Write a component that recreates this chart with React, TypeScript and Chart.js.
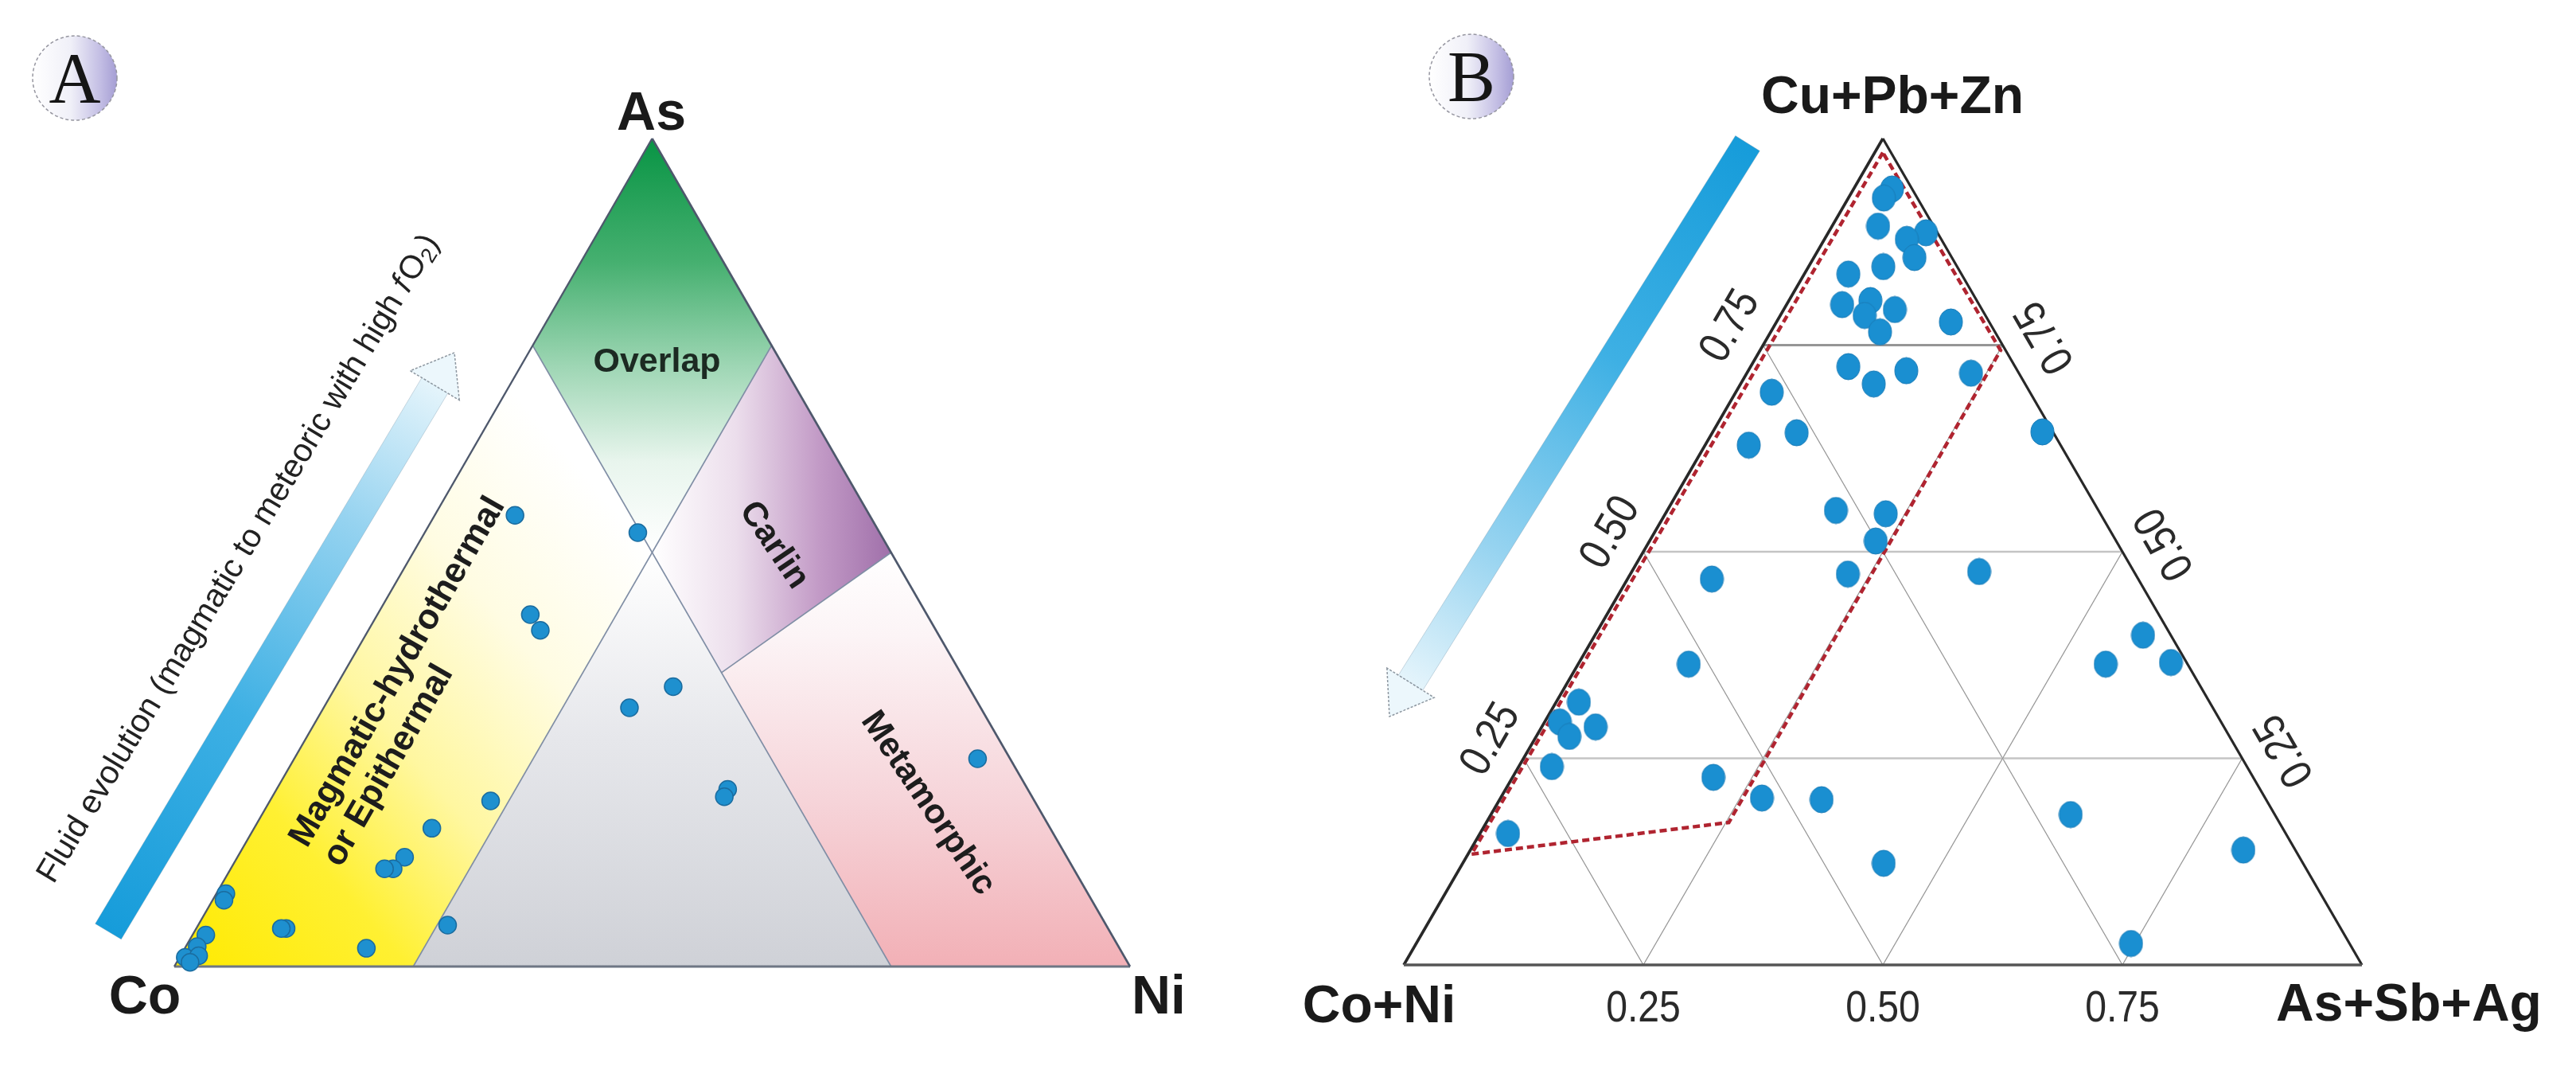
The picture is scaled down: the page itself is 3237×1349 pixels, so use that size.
import React, { useEffect, useRef } from "react";
import { Chart, registerables } from "chart.js";

Chart.register(...registerables);

// ---------------- Panel A : Co – As – Ni (fractions, Co = 1 - As - Ni) ----------------
const vertexLabelsA = ["Co", "As", "Ni"]; // left, top, right
const pointsA_As = [0.545, 0.524, 0.425, 0.406, 0.338, 0.3125, 0.251, 0.214, 0.205, 0.2, 0.167, 0.132, 0.118, 0.118, 0.088, 0.08, 0.046, 0.046, 0.05, 0.022, 0.038, 0.024, 0.011, 0.013, 0.005];
const pointsA_Ni = [0.084, 0.223, 0.16, 0.18, 0.353, 0.32, 0.715, 0.472, 0.473, 0.231, 0.186, 0.175, 0.17, 0.161, 0.01, 0.012, 0.094, 0.089, 0.261, 0.19, 0.014, 0.012, 0.006, 0.019, 0.014];

// region outlines as [As, Ni]
const regionOverlap = [[1, 0], [0.75, 0], [0.5, 0.25], [0.75, 0.25]];
const regionMagmatic = [[0, 0], [0, 0.25], [0.5, 0.25], [0.75, 0]];
const regionCentral = [[0, 0.25], [0, 0.75], [0.5, 0.25]];
const regionCarlin = [[0.5, 0.25], [0.75, 0.25], [0.5, 0.5], [0.355, 0.395]];
const regionMetamorphic = [[0.355, 0.395], [0.5, 0.5], [0, 1], [0, 0.75]];
const regionNames = ["Overlap", "Carlin", "Metamorphic", "Magmatic-hydrothermal", "or Epithermal"];
const fluidText = ["Fluid evolution (magmatic to meteoric with high ", "f", "O", "2", ")"];

// ---------------- Panel B : (Co+Ni) – (Cu+Pb+Zn) – (As+Sb+Ag) ----------------
const vertexLabelsB = ["Co+Ni", "Cu+Pb+Zn", "As+Sb+Ag"]; // left, top, right
const gridValuesB = [0.25, 0.5, 0.75];
const tickLabelsB = ["0.25", "0.50", "0.75"];
const pointsB_CuPbZn = [0.939, 0.928, 0.894, 0.886, 0.878, 0.856, 0.836, 0.845, 0.799, 0.804, 0.786, 0.793, 0.766, 0.778, 0.724, 0.703, 0.719, 0.716, 0.693, 0.645, 0.629, 0.644, 0.55, 0.546, 0.513, 0.473, 0.467, 0.476, 0.399, 0.364, 0.366, 0.364, 0.318, 0.294, 0.288, 0.2765, 0.24, 0.227, 0.202, 0.2, 0.182, 0.159, 0.123, 0.139, 0.026];
const pointsB_AsSbAg = [0.04, 0.037, 0.048, 0.102, 0.086, 0.105, 0.046, 0.078, 0.058, 0.085, 0.088, 0.116, 0.114, 0.182, 0.102, 0.139, 0.165, 0.234, 0.0375, 0.344, 0.0455, 0.088, 0.176, 0.23, 0.236, 0.227, 0.088, 0.3625, 0.572, 0.5506, 0.6177, 0.1153, 0.0237, 0.0158, 0.0562, 0.0346, 0.0345, 0.2096, 0.2728, 0.336, 0.605, 0.0293, 0.4393, 0.8067, 0.746];
// dashed field as [Cu+Pb+Zn, As+Sb+Ag]
const fieldB = [[0.983, 0.0085], [0.134, 0.0036], [0.1724, 0.253], [0.7437, 0.251]];

// ---------------- helpers ----------------
function txt(ctx: CanvasRenderingContext2D, s: string, x: number, y: number, font: string, color: string, angle = 0, align: CanvasTextAlign = "center", baseline: CanvasTextBaseline = "middle", sx = 1) {
  ctx.save();
  ctx.translate(x, y);
  ctx.rotate((angle * Math.PI) / 180);
  ctx.scale(sx, 1);
  ctx.font = font;
  ctx.fillStyle = color;
  ctx.textAlign = align;
  ctx.textBaseline = baseline;
  ctx.fillText(s, 0, 0);
  ctx.restore();
}

function arrow(ctx: CanvasRenderingContext2D, sx: number, sy: number, tx: number, ty: number, barW: number, headL: number, headW: number) {
  const dx = tx - sx, dy = ty - sy;
  const L = Math.hypot(dx, dy);
  const ux = dx / L, uy = dy / L;
  const px = -uy, py = ux;
  const bx = tx - ux * headL, by = ty - uy * headL;
  const g = ctx.createLinearGradient(sx, sy, bx, by);
  g.addColorStop(0, "rgb(22,156,218)");
  g.addColorStop(0.4, "rgb(62,176,228)");
  g.addColorStop(0.75, "rgb(150,211,240)");
  g.addColorStop(1, "rgb(228,244,251)");
  ctx.beginPath();
  ctx.moveTo(sx + (px * barW) / 2, sy + (py * barW) / 2);
  ctx.lineTo(bx + (px * barW) / 2, by + (py * barW) / 2);
  ctx.lineTo(bx - (px * barW) / 2, by - (py * barW) / 2);
  ctx.lineTo(sx - (px * barW) / 2, sy - (py * barW) / 2);
  ctx.closePath();
  ctx.fillStyle = g;
  ctx.fill();
  ctx.strokeStyle = "rgba(120,150,170,0.35)";
  ctx.lineWidth = 1;
  ctx.stroke();
  ctx.beginPath();
  ctx.moveTo(bx + px * headW, by + py * headW);
  ctx.lineTo(tx, ty);
  ctx.lineTo(bx - px * headW, by - py * headW);
  ctx.lineTo(bx - (px * barW) / 2, by - (py * barW) / 2);
  ctx.lineTo(bx + (px * barW) / 2, by + (py * barW) / 2);
  ctx.closePath();
  ctx.fillStyle = "rgb(236,247,252)";
  ctx.fill();
  ctx.setLineDash([3, 2]);
  ctx.strokeStyle = "rgba(130,140,150,0.9)";
  ctx.lineWidth = 1.5;
  ctx.stroke();
  ctx.setLineDash([]);
}

function badge(ctx: CanvasRenderingContext2D, cx: number, cy: number, r: number, letter: string) {
  const g = ctx.createLinearGradient(cx - r, cy, cx + r, cy);
  g.addColorStop(0, "rgb(255,255,255)");
  g.addColorStop(0.45, "rgb(240,240,248)");
  g.addColorStop(0.8, "rgb(195,190,228)");
  g.addColorStop(1, "rgb(165,158,212)");
  ctx.beginPath();
  ctx.arc(cx, cy, r, 0, Math.PI * 2);
  ctx.fillStyle = g;
  ctx.fill();
  ctx.setLineDash([4, 3]);
  ctx.strokeStyle = "rgb(150,150,160)";
  ctx.lineWidth = 1.5;
  ctx.stroke();
  ctx.setLineDash([]);
  txt(ctx, letter, cx, cy + 31, "90px 'Liberation Serif'", "#151515", 0, "center", "alphabetic");
}

function ellipseMarker(rx: number, ry: number, fill: string, stroke: string) {
  const c = document.createElement("canvas");
  c.width = Math.ceil(rx * 2 + 2);
  c.height = Math.ceil(ry * 2 + 2);
  const x = c.getContext("2d") as CanvasRenderingContext2D;
  x.beginPath();
  x.ellipse(c.width / 2, c.height / 2, rx, ry, 0, 0, Math.PI * 2);
  x.fillStyle = fill;
  x.fill();
  x.strokeStyle = stroke;
  x.lineWidth = 1;
  x.stroke();
  return c;
}

// ---------------- Panel A plugin ----------------
const plugA = {
  id: "panelA",
  beforeDatasetsDraw(chart: any) {
    const ctx: CanvasRenderingContext2D = chart.ctx;
    const xs = chart.scales.x, ys = chart.scales.y;
    const P = (as: number, ni: number) => [xs.getPixelForValue(ni + as / 2), ys.getPixelForValue(as)];
    const poly = (pts: number[][]) => {
      ctx.beginPath();
      pts.forEach(([a, n], i) => {
        const [x, y] = P(a, n);
        if (i) ctx.lineTo(x, y);
        else ctx.moveTo(x, y);
      });
      ctx.closePath();
    };
    const yBase = ys.getPixelForValue(0), yHalf = ys.getPixelForValue(0.5), yTop = ys.getPixelForValue(1);

    // Magmatic (yellow)
    const [cx0, cy0] = P(0, 0);
    const [cx1, cy1] = P(0.5, 0.25);
    let g = ctx.createLinearGradient(cx0, cy0, cx1, cy1);
    g.addColorStop(0, "rgb(255,234,0)");
    g.addColorStop(0.28, "rgb(255,240,50)");
    g.addColorStop(0.5, "rgb(255,247,160)");
    g.addColorStop(0.75, "rgb(255,252,226)");
    g.addColorStop(1, "rgb(255,255,255)");
    poly(regionMagmatic);
    ctx.fillStyle = g;
    ctx.fill();

    // Central (grey)
    g = ctx.createLinearGradient(0, yBase, 0, yHalf);
    g.addColorStop(0, "rgb(207,209,215)");
    g.addColorStop(0.55, "rgb(230,231,235)");
    g.addColorStop(1, "rgb(255,255,255)");
    poly(regionCentral);
    ctx.fillStyle = g;
    ctx.fill();

    // Overlap (green)
    g = ctx.createLinearGradient(0, yTop, 0, yHalf);
    g.addColorStop(0, "rgb(8,148,68)");
    g.addColorStop(0.3, "rgb(70,176,112)");
    g.addColorStop(0.55, "rgb(158,214,180)");
    g.addColorStop(0.78, "rgb(232,245,237)");
    g.addColorStop(1, "rgb(255,255,255)");
    poly(regionOverlap);
    ctx.fillStyle = g;
    ctx.fill();

    // Carlin (purple)
    const [kx0] = P(0.5, 0.25);
    const [kx1] = P(0.5, 0.5);
    g = ctx.createLinearGradient(kx0, 0, kx1, 0);
    g.addColorStop(0, "rgb(255,255,255)");
    g.addColorStop(0.35, "rgb(236,222,236)");
    g.addColorStop(0.7, "rgb(194,154,198)");
    g.addColorStop(1, "rgb(160,112,170)");
    poly(regionCarlin);
    ctx.fillStyle = g;
    ctx.fill();

    // Metamorphic (pink)
    g = ctx.createLinearGradient(0, yHalf, 0, yBase);
    g.addColorStop(0, "rgb(255,255,255)");
    g.addColorStop(0.2, "rgb(252,244,246)");
    g.addColorStop(0.6, "rgb(246,212,217)");
    g.addColorStop(1, "rgb(242,176,182)");
    poly(regionMetamorphic);
    ctx.fillStyle = g;
    ctx.fill();

    // inner boundary lines
    const seg = (a: number[], b: number[], color: string, w: number) => {
      const [x0, y0] = P(a[0], a[1]);
      const [x1, y1] = P(b[0], b[1]);
      ctx.beginPath();
      ctx.moveTo(x0, y0);
      ctx.lineTo(x1, y1);
      ctx.strokeStyle = color;
      ctx.lineWidth = w;
      ctx.stroke();
    };
    const inner = "rgb(128,142,165)";
    seg([0.75, 0], [0, 0.75], inner, 1.6);
    seg([0, 0.25], [0.75, 0.25], inner, 1.6);
    seg([0.5, 0.5], [0.355, 0.395], inner, 1.6);

    // outline
    const edge = "rgb(78,88,108)";
    seg([0, 0], [0, 1], "rgb(110,118,132)", 3);
    seg([0, 0], [1, 0], edge, 2.4);
    seg([1, 0], [0, 1], edge, 2.6);

    // region labels
    const fb = "bold 43px 'Liberation Sans'";
    const dark = "#1d1d1d";
    let [x, y] = P(0.73, 0.14);
    txt(ctx, regionNames[0], x, y, fb, "#1c2a22");
    [x, y] = P(0.5087, 0.373);
    txt(ctx, regionNames[1], x, y, fb, dark, 56);
    [x, y] = P(0.197, 0.69);
    txt(ctx, regionNames[2], x, y, fb, dark, 56);
    [x, y] = P(0.148, 0.056);
    ctx.save();
    ctx.translate(x, y);
    ctx.rotate((-60 * Math.PI) / 180);
    ctx.font = "bold 44px 'Liberation Sans'";
    ctx.fillStyle = dark;
    ctx.textAlign = "left";
    ctx.textBaseline = "middle";
    ctx.fillText(regionNames[3], 0, 0);
    ctx.fillText(regionNames[4], 0, 49);
    ctx.restore();
  },
  afterDraw(chart: any) {
    const ctx: CanvasRenderingContext2D = chart.ctx;
    const xs = chart.scales.x, ys = chart.scales.y;
    const P = (as: number, ni: number) => [xs.getPixelForValue(ni + as / 2), ys.getPixelForValue(as)];
    const fv = "bold 68px 'Liberation Sans'";
    let [x, y] = P(0, 0);
    txt(ctx, vertexLabelsA[0], x - 37, y + 59, fv, "#1a1a1a", 0, "center", "alphabetic");
    [x, y] = P(1, 0);
    txt(ctx, vertexLabelsA[1], x - 1, y - 11, fv, "#1a1a1a", 0, "center", "alphabetic");
    [x, y] = P(0, 1);
    txt(ctx, vertexLabelsA[2], x + 36, y + 59, fv, "#1a1a1a", 0, "center", "alphabetic");

    // fluid-evolution arrow + text
    arrow(ctx, 136, 1170, 571, 443, 38, 48, 36);
    ctx.save();
    ctx.translate(300, 702);
    ctx.rotate((-59 * Math.PI) / 180);
    ctx.fillStyle = "#222";
    ctx.textBaseline = "middle";
    ctx.textAlign = "left";
    const fr = "41px 'Liberation Sans'", fi = "italic 41px 'Liberation Sans'", fs = "27px 'Liberation Sans'";
    const parts = [[fluidText[0], fr, 0], [fluidText[1], fi, 0], [fluidText[2], fr, 0], [fluidText[3], fs, 10], [fluidText[4], fr, 0]] as [string, string, number][];
    let total = 0;
    parts.forEach(([s, f]) => { ctx.font = f; total += ctx.measureText(s).width + (s === "f" ? 4 : 0); });
    let cx = -total / 2;
    parts.forEach(([s, f, dy]) => {
      ctx.font = f;
      ctx.fillText(s, cx, dy);
      cx += ctx.measureText(s).width + (s === "f" ? 4 : 0);
    });
    ctx.restore();

    badge(ctx, 94, 98, 53, "A");
  },
};

// ---------------- Panel B plugin ----------------
const plugB = {
  id: "panelB",
  beforeDatasetsDraw(chart: any) {
    const ctx: CanvasRenderingContext2D = chart.ctx;
    const xs = chart.scales.x, ys = chart.scales.y;
    const P = (t: number, r: number) => [xs.getPixelForValue(r + t / 2), ys.getPixelForValue(t)];
    const seg = (a: number[], b: number[], color: string, w: number) => {
      const [x0, y0] = P(a[0], a[1]);
      const [x1, y1] = P(b[0], b[1]);
      ctx.beginPath();
      ctx.moveTo(x0, y0);
      ctx.lineTo(x1, y1);
      ctx.strokeStyle = color;
      ctx.lineWidth = w;
      ctx.stroke();
    };
    gridValuesB.forEach((v) => {
      seg([0, v], [1 - v, v], "rgb(150,150,150)", 1.3); // constant As+Sb+Ag
      seg([0, 1 - v], [1 - v, 0], "rgb(150,150,150)", 1.3); // constant Co+Ni
      seg([v, 0], [v, 1 - v], v === 0.75 ? "rgb(150,150,150)" : "rgb(196,196,196)", v === 0.75 ? 3 : 2.6); // constant Cu+Pb+Zn
    });
    // dashed field
    ctx.beginPath();
    fieldB.forEach(([t, r], i) => {
      const [x, y] = P(t, r);
      if (i) ctx.lineTo(x, y);
      else ctx.moveTo(x, y);
    });
    ctx.closePath();
    ctx.setLineDash([9, 5]);
    ctx.strokeStyle = "rgb(176,36,48)";
    ctx.lineWidth = 4.5;
    ctx.stroke();
    ctx.setLineDash([]);
    // outline
    seg([0, 0], [1, 0], "rgb(40,40,40)", 3.6);
    seg([1, 0], [0, 1], "rgb(40,40,40)", 3.2);
    seg([0, 0], [0, 1], "rgb(85,85,85)", 3.6);
  },
  afterDraw(chart: any) {
    const ctx: CanvasRenderingContext2D = chart.ctx;
    const xs = chart.scales.x, ys = chart.scales.y;
    const P = (t: number, r: number) => [xs.getPixelForValue(r + t / 2), ys.getPixelForValue(t)];
    const ft = "56px 'Liberation Sans'";
    const col = "#2a2a2a";
    gridValuesB.forEach((v, i) => {
      let [x, y] = P(0, v);
      txt(ctx, tickLabelsB[i], x, y + 71, ft, col, 0, "center", "alphabetic", 0.86);
      [x, y] = P(v, 0);
      txt(ctx, tickLabelsB[i], x - 0.866 * 47, y - 0.5 * 47, ft, col, -60, "center", "middle", 0.86);
      [x, y] = P(v, 1 - v);
      txt(ctx, tickLabelsB[i], x + 0.866 * 52 + 0.5 * 18, y - 0.5 * 52 + 0.866 * 18, ft, col, -120, "center", "middle", 0.86);
    });
    const fv = "bold 66px 'Liberation Sans'";
    let [x, y] = P(0, 0);
    txt(ctx, vertexLabelsB[0], x - 31, y + 72, fv, "#1a1a1a", 0, "center", "alphabetic");
    [x, y] = P(1, 0);
    txt(ctx, vertexLabelsB[1], x + 12, y - 32, fv, "#1a1a1a", 0, "center", "alphabetic");
    [x, y] = P(0, 1);
    txt(ctx, vertexLabelsB[2], x + 59, y + 70, fv, "#1a1a1a", 0, "center", "alphabetic");

    arrow(ctx, 596, 180, 146, 900, 36, 50, 35);
    badge(ctx, 249, 96, 53, "B");
  },
};

function baseOptions(pad: any) {
  return {
    responsive: false,
    animation: false,
    devicePixelRatio: 1,
    events: [],
    layout: { padding: pad },
    scales: {
      x: { type: "linear", min: 0, max: 1, display: false },
      y: { type: "linear", min: 0, max: 1, display: false },
    },
    plugins: { legend: { display: false }, tooltip: { enabled: false } },
  };
}

export default function App() {
  const refA = useRef<HTMLCanvasElement>(null);
  const refB = useRef<HTMLCanvasElement>(null);

  useEffect(() => {
    const chartA = new Chart(refA.current as HTMLCanvasElement, {
      type: "scatter",
      data: {
        datasets: [
          {
            data: pointsA_As.map((as, i) => ({ x: pointsA_Ni[i] + as / 2, y: as })),
            pointRadius: 11,
            pointHoverRadius: 11,
            backgroundColor: "#1e90cf",
            borderColor: "#1b6c9f",
            borderWidth: 1.5,
            clip: false,
          } as any,
        ],
      },
      options: baseOptions({ left: 219, right: 180, top: 174, bottom: 135 }) as any,
      plugins: [plugA as any],
    });
    const markerB = ellipseMarker(14.5, 16.5, "#1a8fd1", "#1a7bb6");
    const chartB = new Chart(refB.current as HTMLCanvasElement, {
      type: "scatter",
      data: {
        datasets: [
          {
            data: pointsB_CuPbZn.map((t, i) => ({ x: pointsB_AsSbAg[i] + t / 2, y: t })),
            pointStyle: markerB,
            pointRadius: 15,
            pointHoverRadius: 15,
            backgroundColor: "#1a8fd1",
            borderColor: "#1a7bb6",
            borderWidth: 1,
            clip: false,
          } as any,
        ],
      },
      options: baseOptions({ left: 164, right: 269, top: 174, bottom: 137 }) as any,
      plugins: [plugB as any],
    });
    return () => {
      chartA.destroy();
      chartB.destroy();
    };
  }, []);

  return (
    <div style={{ position: "absolute", left: 0, top: 0, width: 3237, height: 1349, background: "#fff", overflow: "hidden" }}>
      <canvas ref={refA} width={1600} height={1349} style={{ position: "absolute", left: 0, top: 0 }} />
      <canvas ref={refB} width={1637} height={1349} style={{ position: "absolute", left: 1600, top: 0 }} />
    </div>
  );
}
